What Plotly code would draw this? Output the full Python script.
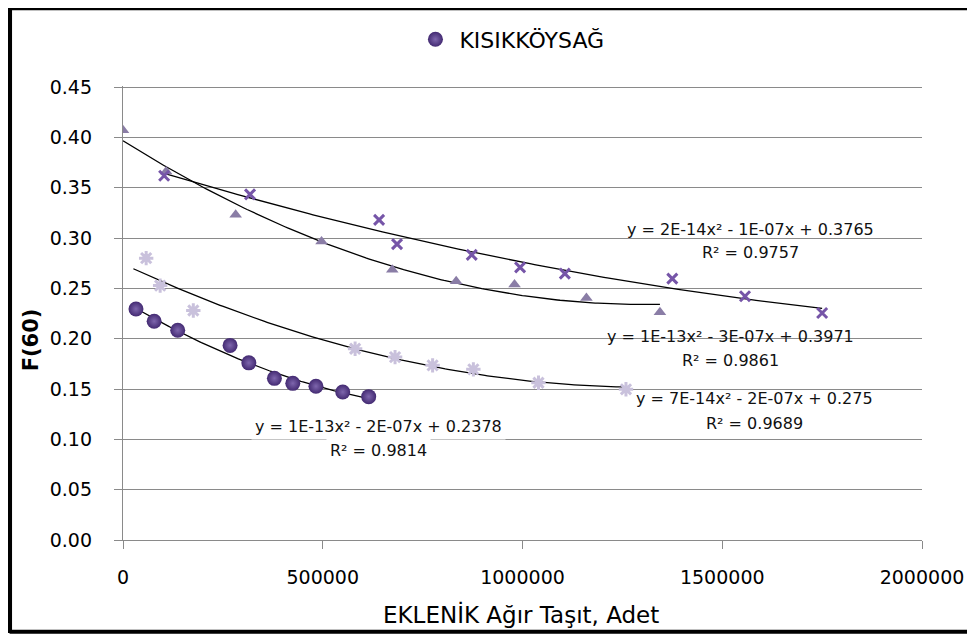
import numpy as np
import plotly.graph_objects as go

# ---------------- data ----------------
series_names = ["KISIKKÖYSAĞ", "Seri 2", "Seri 3", "Seri 4"]

circ_x = [32500, 78000, 137000, 268000, 315000, 379000, 425000, 483000, 550000, 615000]
circ_y = [0.2295, 0.2173, 0.2084, 0.1933, 0.1760, 0.1606, 0.1556, 0.1527, 0.1470, 0.1424]

tri_x = [0, 108000, 282000, 497000, 674000, 834000, 980000, 1160000, 1344000]
tri_y = [0.407, 0.366, 0.323, 0.2965, 0.2685, 0.257, 0.2537, 0.2404, 0.2262]

xm_x = [103000, 318000, 641000, 686000, 873000, 994000, 1106000, 1375000, 1557000, 1750000]
xm_y = [0.3619, 0.3434, 0.318, 0.2939, 0.2833, 0.2708, 0.2646, 0.2596, 0.2421, 0.2255]

ast_x = [58000, 93000, 176000, 581000, 681000, 775000, 877000, 1040000, 1259000]
ast_y = [0.280, 0.2527, 0.228, 0.190, 0.1817, 0.1735, 0.1695, 0.1562, 0.1497]

# trendline start (Excel backward forecast for the asterisk series)
trend_from = [32500, 0, 103000, 26000]

eq_texts = [
    ("y = 1E-13x² - 2E-07x + 0.2378", "R² = 0.9814"),
    ("y = 1E-13x² - 3E-07x + 0.3971", "R² = 0.9861"),
    ("y = 2E-14x² - 1E-07x + 0.3765", "R² = 0.9757"),
    ("y = 7E-14x² - 2E-07x + 0.275", "R² = 0.9689"),
]
eq_pos = [(640000, 0.1125, 0.0885), (1520000, 0.2020, 0.1785),
          (1570000, 0.3080, 0.2860), (1580000, 0.1405, 0.1155)]

x_ticks = [0, 500000, 1000000, 1500000, 2000000]
x_tick_labels = ["0", "500000", "1000000", "1500000", "2000000"]
y_ticks = [0.00, 0.05, 0.10, 0.15, 0.20, 0.25, 0.30, 0.35, 0.40, 0.45]

FONT = "DejaVu Sans"

fig = go.Figure()

# trendlines
all_series = [(circ_x, circ_y), (tri_x, tri_y), (xm_x, xm_y), (ast_x, ast_y)]
for i, (xs, ys) in enumerate(all_series):
    c = np.polyfit(xs, ys, 2)
    tx = np.linspace(trend_from[i], max(xs), 200)
    fig.add_trace(go.Scatter(x=tx, y=np.polyval(c, tx), mode="lines",
                             line=dict(color="black", width=1.3),
                             showlegend=False, hoverinfo="skip"))

fig.add_trace(go.Scatter(x=ast_x, y=ast_y, mode="markers", name=series_names[3],
                         showlegend=False,
                         marker=dict(symbol="asterisk", size=12,
                                     line=dict(color="#c9c1dc", width=3))))
fig.add_trace(go.Scatter(x=tri_x, y=tri_y, mode="markers", name=series_names[1],
                         showlegend=False,
                         marker=dict(symbol="triangle-up", size=11, color="#8a7da6")))
fig.add_trace(go.Scatter(x=xm_x, y=xm_y, mode="markers", name=series_names[2],
                         showlegend=False,
                         marker=dict(symbol="x-thin", size=10,
                                     line=dict(color="#7655a8", width=3))))
fig.add_trace(go.Scatter(x=circ_x, y=circ_y, mode="markers", name=series_names[0],
                         marker=dict(symbol="circle", size=15, color="#432a72",
                                     gradient=dict(type="radial", color="#7e66ad"),
                                     line=dict(width=0))))

# equations
for (l1, l2), (ex, ey1, ey2), bg in zip(eq_texts, eq_pos,
                                        [True, False, False, False]):
    for txt, ey in ((l1, ey1), (l2, ey2)):
        fig.add_annotation(x=ex, y=ey, xref="x", yref="y", text=txt,
                           showarrow=False, font=dict(family=FONT, size=16, color="#111111"),
                           bgcolor="white" if bg else "rgba(0,0,0,0)", borderpad=3,
                           xanchor="center", yanchor="middle")

# axis titles
fig.add_annotation(x=-0.115, y=0.44, xref="paper", yref="paper", text="<b>F(60)</b>",
                   textangle=-90, showarrow=False, xanchor="center", yanchor="middle",
                   font=dict(family=FONT, size=21, color="black"))
fig.add_annotation(x=0.498, y=-0.163, xref="paper", yref="paper",
                   text="EKLENİK Ağır Taşıt, Adet", showarrow=False,
                   xanchor="center", yanchor="middle",
                   font=dict(family=FONT, size=23, color="black"))

# outer frame
for (x0, y0, x1, y1, w) in [(-0.142, 1.1736, 1.07, 1.1736, 6),
                            (-0.142, 1.18, -0.142, -0.205, 5),
                            (-0.142, -0.202, 1.07, -0.202, 4)]:
    fig.add_shape(type="line", xref="paper", yref="paper", x0=x0, y0=y0, x1=x1, y1=y1,
                  line=dict(color="black", width=w), layer="above")

# the page body adds an 8px margin, so the figure is sized to fit inside it
fig.update_layout(
    width=967, height=630,
    margin=dict(l=115, r=53, t=77, b=98),
    paper_bgcolor="white", plot_bgcolor="white",
    font=dict(family=FONT, color="black"),
    showlegend=True,
    legend=dict(orientation="h", x=0.361, y=1.10, xanchor="left", yanchor="middle",
                itemwidth=38,
                font=dict(family=FONT, size=22, color="black"),
                bgcolor="rgba(0,0,0,0)"),
    xaxis=dict(range=[0, 2000000], tickvals=x_ticks, ticktext=x_tick_labels,
               showgrid=False, zeroline=False, showline=True, linecolor="#8a8a8a",
               linewidth=1.3, ticks="outside", ticklen=8, tickcolor="#8a8a8a",
               tickfont=dict(family=FONT, size=19, color="black"),
               ticklabelstandoff=12, automargin=False),
    yaxis=dict(range=[0, 0.451], tickvals=y_ticks, tickformat=".2f",
               showgrid=True, gridcolor="#8a8a8a", gridwidth=1.3, zeroline=False,
               showline=True, linecolor="#8a8a8a", linewidth=1.3,
               ticks="outside", ticklen=8, tickcolor="#8a8a8a",
               tickfont=dict(family=FONT, size=19, color="black"),
               ticklabelstandoff=18, automargin=False),
)

fig.write_html("out.html")
